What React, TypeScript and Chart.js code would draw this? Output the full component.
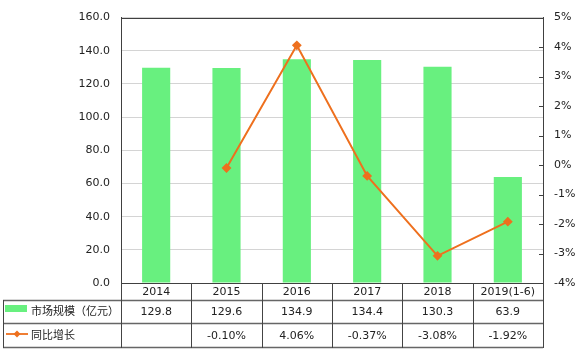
import React, { useEffect, useRef } from "react";
import { Chart, registerables } from "chart.js";

Chart.register(...registerables);

const categories = ["2014", "2015", "2016", "2017", "2018", "2019(1-6)"];
const marketSize = [129.8, 129.6, 134.9, 134.4, 130.3, 63.9];
const yoyGrowth: (number | null)[] = [null, -0.1, 4.06, -0.37, -3.08, -1.92];
const seriesNames = ["市场规模（亿元）", "同比增长"];

const BAR_COLOR = "#68F07F";
const LINE_COLOR = "#EE701E";
const FONT = "'DejaVu Sans', 'Noto Sans CJK SC', sans-serif";
const TEXT = "#222";

const tablePlugin = {
  id: "tablePlugin",
  afterDraw(chart: any) {
    const ctx = chart.ctx;
    const area = chart.chartArea;
    const y1 = chart.scales.y1;
    ctx.save();
    // plot border
    ctx.strokeStyle = "#404040";
    ctx.lineWidth = 1;
    ctx.strokeRect(Math.round(area.left) + 0.5, Math.round(area.top) + 0.5, Math.round(area.right - area.left), Math.round(area.bottom - area.top));
    // inward ticks on right axis
    y1.ticks.forEach((t: any) => {
      const py = Math.round(y1.getPixelForValue(t.value)) + 0.5;
      ctx.beginPath();
      ctx.moveTo(area.right - 4, py);
      ctx.lineTo(area.right, py);
      ctx.stroke();
    });
    // table
    const n = categories.length;
    const left = 3;
    const r0 = Math.round(area.bottom);
    const r1 = r0 + 17;
    const r2 = r1 + 23;
    const r3 = r2 + 24;
    const w = (area.right - area.left) / n;
    ctx.strokeStyle = "#666";
    ctx.lineWidth = 1.5;
    const hline = (y: number) => {
      ctx.beginPath();
      ctx.moveTo(left, y + 0.5);
      ctx.lineTo(area.right, y + 0.5);
      ctx.stroke();
    };
    hline(r1);
    hline(r2);
    hline(r3);
    ctx.strokeStyle = "#444";
    ctx.lineWidth = 1;
    const vline = (x: number, ya: number, yb: number) => {
      ctx.beginPath();
      ctx.moveTo(Math.round(x) + 0.5, ya);
      ctx.lineTo(Math.round(x) + 0.5, yb);
      ctx.stroke();
    };
    for (let i = 0; i <= n; i++) vline(area.left + i * w, r0, r3 + 1);
    vline(left, r1, r3 + 1);

    ctx.fillStyle = TEXT;
    ctx.font = "11px " + FONT;
    ctx.textAlign = "center";
    ctx.textBaseline = "middle";
    for (let i = 0; i < n; i++) {
      const cx = area.left + (i + 0.5) * w;
      ctx.fillText(categories[i], cx, (r0 + r1) / 2 + 1);
      ctx.fillText(marketSize[i].toFixed(1), cx, (r1 + r2) / 2 + 1);
      const g = yoyGrowth[i];
      if (g !== null) ctx.fillText(g.toFixed(2) + "%", cx, (r2 + r3) / 2 + 1);
    }
    // legend keys
    ctx.fillStyle = BAR_COLOR;
    ctx.fillRect(5, r1 + 5, 22, 7);
    ctx.strokeStyle = LINE_COLOR;
    ctx.lineWidth = 1.8;
    const ly = (r2 + r3) / 2 - 1;
    ctx.beginPath();
    ctx.moveTo(6, ly);
    ctx.lineTo(28, ly);
    ctx.stroke();
    ctx.fillStyle = LINE_COLOR;
    ctx.beginPath();
    ctx.moveTo(17, ly - 3.5);
    ctx.lineTo(20.5, ly);
    ctx.lineTo(17, ly + 3.5);
    ctx.lineTo(13.5, ly);
    ctx.closePath();
    ctx.fill();
    ctx.fillStyle = TEXT;
    ctx.textAlign = "left";
    ctx.fillText(seriesNames[0], 31, (r1 + r2) / 2 + 1);
    ctx.fillText(seriesNames[1], 31, (r2 + r3) / 2 + 1);
    ctx.restore();
  },
};

export default function App() {
  const ref = useRef<HTMLCanvasElement>(null);
  useEffect(() => {
    const chart = new Chart(ref.current!, {
      type: "bar",
      data: {
        labels: categories,
        datasets: [
          {
            type: "line",
            label: seriesNames[1],
            data: yoyGrowth,
            yAxisID: "y1",
            borderColor: LINE_COLOR,
            backgroundColor: LINE_COLOR,
            borderWidth: 2,
            pointStyle: "rectRot",
            pointRadius: 3.5,
            pointBackgroundColor: LINE_COLOR,
            pointBorderColor: LINE_COLOR,
            order: 1,
          } as any,
          {
            type: "bar",
            label: seriesNames[0],
            data: marketSize,
            yAxisID: "y",
            backgroundColor: BAR_COLOR,
            categoryPercentage: 1,
            barPercentage: 0.4,
            order: 2,
          },
        ],
      },
      options: {
        responsive: false,
        animation: false,
        layout: { padding: { top: 16, bottom: 69, left: 0, right: 0 } },
        plugins: { legend: { display: false }, tooltip: { enabled: false } },
        scales: {
          x: { display: false, offset: true },
          y: {
            position: "left",
            min: 0,
            max: 160,
            ticks: {
              stepSize: 20,
              padding: 11,
              color: TEXT,
              font: { family: FONT, size: 11 },
              callback: (v: any) => Number(v).toFixed(1),
            },
            grid: { color: "#d4d4d4", drawTicks: false },
            border: { color: "#404040" },
            afterFit: (s: any) => {
              s.width = 121;
            },
          },
          y1: {
            position: "right",
            min: -4,
            max: 5,
            ticks: {
              stepSize: 1,
              padding: 11,
              color: TEXT,
              font: { family: FONT, size: 11 },
              callback: (v: any) => v + "%",
            },
            grid: { drawOnChartArea: false, drawTicks: false },
            border: { color: "#404040" },
            afterFit: (s: any) => {
              s.width = 36;
            },
          },
        },
      },
      plugins: [tablePlugin],
    });
    return () => chart.destroy();
  }, []);
  return (
    <div style={{ position: "absolute", left: 0, top: 0, width: 579, height: 352, background: "#fff" }}>
      <canvas ref={ref} width={579} height={352} />
    </div>
  );
}
